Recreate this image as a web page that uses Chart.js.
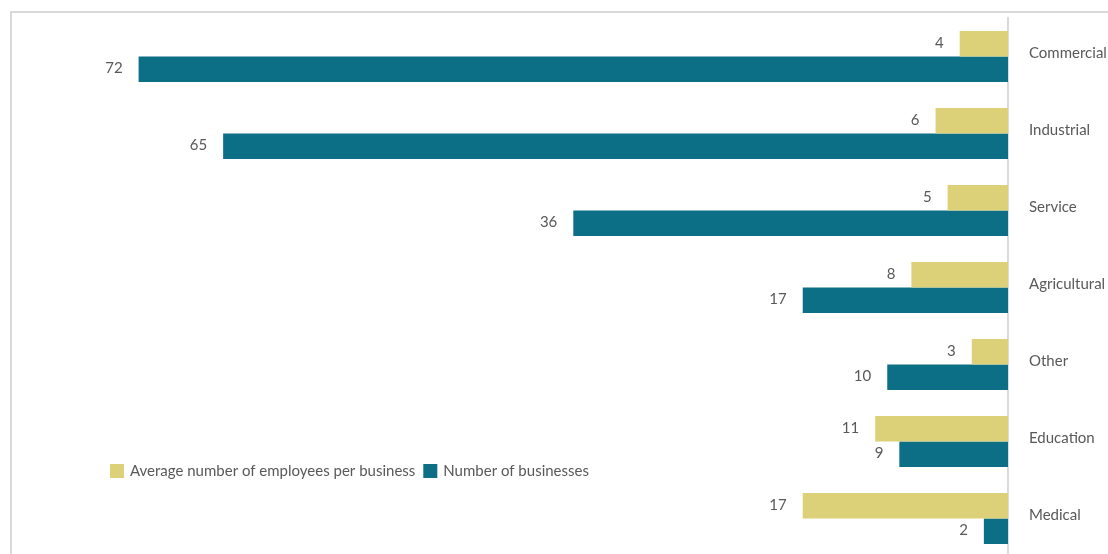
<!DOCTYPE html>
<html>
<head>
<meta charset="utf-8">
<script src="https://cdn.jsdelivr.net/npm/chart.js@4.4.1/dist/chart.umd.min.js"></script>
<style>
  html, body { margin: 0; padding: 0; background: #ffffff; overflow: hidden; }
  #wrap { position: relative; width: 1108px; height: 560px; }
</style>
</head>
<body>
<div id="wrap"><canvas id="chart" width="1108" height="560"></canvas></div>
<script>
// Business sectors and their figures
const sectors = ['Commercial', 'Industrial', 'Service', 'Agricultural', 'Other', 'Education', 'Medical'];
const avgEmployees = [4, 6, 5, 8, 3, 11, 17];
const businessCount = [72, 65, 36, 17, 10, 9, 2];
const seriesNames = ['Average number of employees per business', 'Number of businesses'];

const YELLOW = '#dcd179';
const TEAL = '#0d6f86';
const TEXT = '#595959';
const LINE = '#d9d9d9';
const FONT = 'Lato, "Open Sans", sans-serif';

// Light frame along the top and left of the figure
const framePlugin = {
  id: 'frame',
  beforeDraw(chart) {
    const ctx = chart.ctx;
    ctx.save();
    ctx.fillStyle = '#ffffff';
    ctx.fillRect(0, 0, chart.width, chart.height);
    ctx.strokeStyle = LINE;
    ctx.lineWidth = 2;
    ctx.beginPath();
    ctx.moveTo(11, chart.height + 5);
    ctx.lineTo(11, 12);
    ctx.lineTo(chart.width + 5, 12);
    ctx.stroke();
    ctx.restore();
  }
};

// Value written just beyond the end of every bar
const valueLabels = {
  id: 'valueLabels',
  afterDatasetsDraw(chart) {
    const ctx = chart.ctx;
    ctx.save();
    ctx.font = '15px ' + FONT;
    ctx.fillStyle = TEXT;
    ctx.textAlign = 'right';
    ctx.textBaseline = 'middle';
    chart.data.datasets.forEach((ds, i) => {
      chart.getDatasetMeta(i).data.forEach((bar, j) => {
        ctx.fillText(String(ds.data[j]), bar.x - 16, bar.y - 1);
      });
    });
    ctx.restore();
  }
};

// Single-row legend inside the plot area
const innerLegend = {
  id: 'innerLegend',
  afterDraw(chart, args, opts) {
    const ctx = chart.ctx;
    ctx.save();
    ctx.font = '15px ' + FONT;
    ctx.textBaseline = 'middle';
    ctx.textAlign = 'left';
    let x = opts.x;
    const y = opts.y;
    chart.data.datasets.forEach((ds) => {
      ctx.fillStyle = ds.backgroundColor;
      ctx.fillRect(x, y - 7, 14, 14);
      x += 20;
      ctx.fillStyle = TEXT;
      ctx.fillText(ds.label, x, y);
      x += ctx.measureText(ds.label).width + 8;
    });
    ctx.restore();
  }
};

new Chart(document.getElementById('chart'), {
  type: 'bar',
  data: {
    labels: sectors,
    datasets: [
      { label: seriesNames[0], data: avgEmployees, backgroundColor: YELLOW },
      { label: seriesNames[1], data: businessCount, backgroundColor: TEAL }
    ]
  },
  plugins: [framePlugin, valueLabels, innerLegend],
  options: {
    indexAxis: 'y',
    responsive: false,
    animation: false,
    layout: { padding: { left: 42, top: 18, bottom: 3, right: 0 } },
    datasets: { bar: { barPercentage: 1, categoryPercentage: 0.662 } },
    scales: {
      x: {
        reverse: true,
        min: 0,
        max: 80,
        display: false
      },
      y: {
        position: 'right',
        afterFit(scale) {
          scale.width = 100;
          scale.paddingTop = 0;
          scale.paddingBottom = 0;
        },
        grid: { drawOnChartArea: false, drawTicks: false },
        border: { color: LINE, width: 2 },
        ticks: { color: TEXT, font: { family: FONT, size: 15 }, padding: 21, labelOffset: -3 }
      }
    },
    plugins: {
      legend: { display: false },
      tooltip: { enabled: false },
      innerLegend: { x: 110, y: 471 }
    }
  }
});
</script>
</body>
</html>
